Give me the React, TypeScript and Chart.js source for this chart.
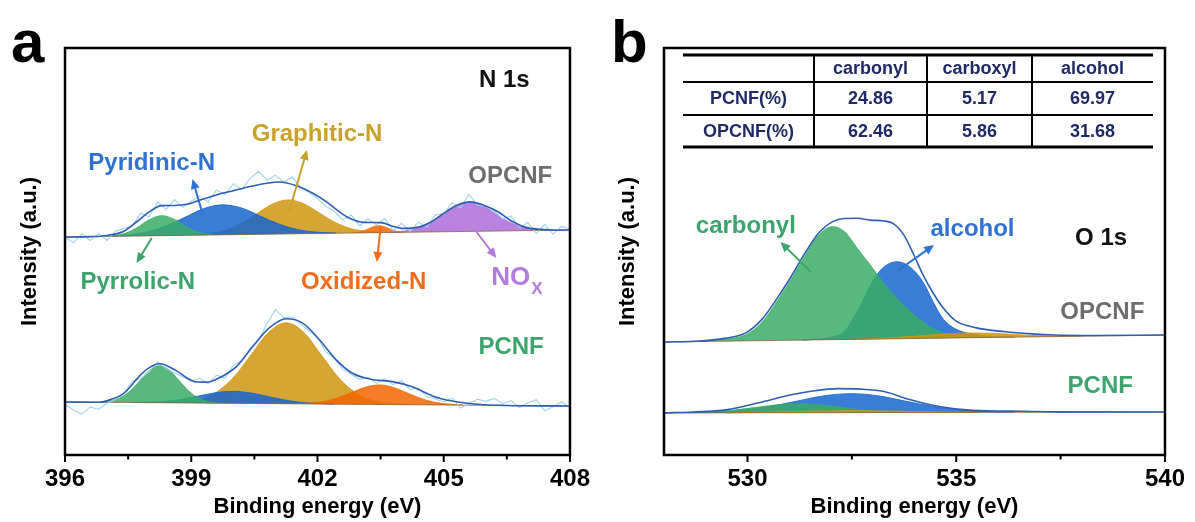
import React, { useEffect, useRef } from "react";
import { Chart, registerables } from "chart.js";

Chart.register(...registerables);

const FONT = '"Liberation Sans", Arial, Helvetica, sans-serif';

// ================= Panel a : N 1s =================
const A_X_RANGE = [396, 408];
const A_MAJOR_TICKS = [396, 399, 402, 405, 408];
const A_MINOR_TICKS = [397.5, 400.5, 403.5, 406.5];
const A_Y_RANGE = [0, 407];

// linear background under each spectrum (value at left end, right end)
const A_OPCNF_BACKGROUND = [218, 225];
const A_PCNF_BACKGROUND = [53, 49];

// [binding energy, intensity above background]
const A_OPCNF_ENVELOPE = [
  [396, 0], [396.6, 0], [397, 1], [397.4, 5], [397.7, 14], [398, 24], [398.3, 30], [398.6, 30],
  [398.9, 31], [399.2, 35], [399.6, 40], [400, 44], [400.4, 48], [400.8, 51], [401.1, 52],
  [401.5, 48], [401.9, 40], [402.2, 32], [402.5, 22], [402.75, 15], [403.1, 10.5], [403.5, 10],
  [403.8, 6], [404.0, 4], [404.4, 5], [404.7, 10], [404.95, 17], [405.3, 26], [405.63, 29.5],
  [405.95, 26], [406.3, 19], [406.6, 10], [406.93, 3.5], [407.3, 1], [407.7, 0], [408, 0],
];
const A_OPCNF_RAW = [
  [396.0, 0], [396.2, -6], [396.4, 3], [396.6, -4], [396.8, 3], [397.0, -4], [397.2, 5], [397.4, 8],
  [397.6, 10], [397.8, 23], [398.0, 19], [398.2, 34], [398.4, 26], [398.6, 36], [398.8, 28],
  [399.0, 34], [399.2, 39], [399.4, 33], [399.6, 45], [399.8, 40], [400.0, 51], [400.2, 45],
  [400.4, 56], [400.6, 63], [400.8, 54], [401.0, 59], [401.2, 52], [401.4, 57], [401.6, 46],
  [401.8, 41], [402.0, 35], [402.2, 27], [402.4, 22], [402.6, 13], [402.8, 18], [403.0, 7],
  [403.2, 14], [403.4, 8], [403.6, 14], [403.8, 2], [404.0, 9], [404.2, 1], [404.4, 10], [404.6, 5],
  [404.8, 17], [405.0, 18], [405.2, 29], [405.4, 24], [405.6, 37], [405.8, 26], [406.0, 25],
  [406.2, 20], [406.4, 12], [406.6, 15], [406.8, 3], [407.0, 8], [407.2, -3], [407.4, 6],
  [407.6, -4], [407.8, 4], [408.0, 1],
];
const A_OPCNF_PYRROLIC = [
  [397.1, 0.5], [397.4, 2.5], [397.7, 8], [398.0, 16], [398.3, 20], [398.6, 16], [398.9, 8],
  [399.2, 2.5], [399.5, 0.5],
];
const A_OPCNF_PYRIDINIC = [
  [397.05, 0.3], [397.5, 1.3], [397.95, 4], [398.4, 9.7], [398.85, 18], [399.3, 26.5], [399.75, 30],
  [400.2, 26.5], [400.65, 18], [401.1, 9.7], [401.55, 4], [402.0, 1.3], [402.45, 0.3],
];
const A_OPCNF_GRAPHITIC = [
  [399.08, 0.4], [399.45, 1.5], [399.82, 4.6], [400.19, 11], [400.56, 20.6], [400.93, 30], [401.3, 34],
  [401.67, 30], [402.04, 20.6], [402.41, 11], [402.78, 4.6], [403.15, 1.5], [403.52, 0.4],
];
const A_OPCNF_OXIDIZED = [
  [402.85, 0.2], [403.0, 0.9], [403.15, 2.8], [403.3, 5.6], [403.45, 7], [403.6, 5.6], [403.75, 2.8],
  [403.9, 0.9], [404.05, 0.2],
];
const A_OPCNF_NOX = [
  [403.74, 0.3], [404.05, 1.3], [404.36, 3.9], [404.67, 9.4], [404.98, 17.6], [405.29, 25.6], [405.6, 29],
  [405.91, 25.6], [406.22, 17.6], [406.53, 9.4], [406.84, 3.9], [407.15, 1.3], [407.46, 0.3],
];

const A_PCNF_ENVELOPE = [
  [396, 0], [396.8, 0], [397.1, 3], [397.38, 8.5], [397.78, 27], [398.0, 35], [398.25, 39],
  [398.65, 32], [398.9, 25], [399.13, 21], [399.35, 21], [399.6, 24], [400.08, 37], [400.46, 57],
  [400.86, 76], [401.26, 85], [401.64, 81], [402.05, 64], [402.45, 44], [402.83, 31], [403.3, 25],
  [403.78, 23], [404.25, 18], [404.73, 9], [405.2, 4], [405.77, 1], [406.5, 0], [408, 0],
];
const A_PCNF_RAW = [
  [396.0, -2], [396.2, -8], [396.4, -12], [396.6, -5], [396.8, -7], [397.0, -1], [397.2, 3], [397.4, 9],
  [397.6, 21], [397.8, 24], [398.0, 31], [398.2, 41], [398.4, 34], [398.6, 30], [398.8, 26],
  [399.0, 22], [399.2, 25], [399.4, 19], [399.6, 28], [399.8, 25], [400.0, 38], [400.2, 43],
  [400.4, 55], [400.6, 63], [400.8, 80], [401.0, 94], [401.2, 86], [401.4, 87], [401.6, 80],
  [401.8, 73], [402.0, 67], [402.2, 52], [402.4, 46], [402.6, 35], [402.8, 30], [403.0, 25],
  [403.2, 27], [403.4, 21], [403.6, 26], [403.8, 20], [404.0, 24], [404.2, 15], [404.4, 17],
  [404.6, 8], [404.8, 6], [405.0, 3], [405.2, 7], [405.4, -3], [405.6, 2], [405.8, 6], [406.0, 4],
  [406.2, 7], [406.4, 2], [406.6, 5], [406.8, -2], [407.0, 3], [407.2, 6], [407.4, -5], [407.6, -1],
  [407.8, 4], [408.0, -2],
];
const A_PCNF_PYRROLIC = [
  [396.87, 0.4], [397.1, 1.6], [397.33, 5], [397.56, 12], [397.79, 22.4], [398.02, 32.7], [398.25, 37],
  [398.48, 32.7], [398.71, 22.4], [398.94, 12], [399.17, 5], [399.4, 1.6], [399.63, 0.4],
];
const A_PCNF_PYRIDINIC = [
  [397.6, 0.13], [398.0, 0.53], [398.4, 1.6], [398.8, 3.9], [399.2, 7.3], [399.6, 10.6], [400.0, 12],
  [400.4, 10.6], [400.8, 7.3], [401.2, 3.9], [401.6, 1.6], [402.0, 0.53], [402.4, 0.13],
];
const A_PCNF_GRAPHITIC = [
  [398.36, 0.2], [398.77, 0.9], [399.185, 3.6], [399.6, 11], [400.015, 26.3], [400.43, 49],
  [400.845, 71.5], [401.26, 81], [401.675, 71.5], [402.09, 49], [402.505, 26.3], [402.92, 11],
  [403.335, 3.6], [403.75, 0.9], [404.16, 0.2],
];
const A_PCNF_OXIDIZED = [
  [401.49, 0.2], [401.82, 0.9], [402.15, 2.6], [402.48, 6.3], [402.81, 11.8], [403.14, 17.2],
  [403.47, 19.5], [403.8, 17.2], [404.13, 11.8], [404.46, 6.3], [404.79, 2.6], [405.12, 0.9],
  [405.45, 0.2],
];

// ================= Panel b : O 1s =================
const B_X_RANGE = [528, 540];
const B_MAJOR_TICKS = [530, 535, 540];
const B_MINOR_TICKS = [532.5, 537.5];
const B_Y_RANGE = [0, 407];

const B_OPCNF_BACKGROUND = [113, 120];
const B_PCNF_BACKGROUND = [42, 43];

const B_OPCNF_ENVELOPE = [
  [528, 0], [528.85, 0.5], [529.49, 3], [529.96, 8], [530.34, 21], [530.74, 44], [531.05, 64],
  [531.38, 87], [531.69, 106], [532.04, 118], [532.32, 121], [532.63, 121], [532.94, 119],
  [533.27, 118], [533.5, 115], [533.74, 104], [533.98, 84], [534.21, 63], [534.45, 45], [534.69, 30],
  [534.99, 17], [535.46, 10], [536.17, 5.5], [536.8, 3], [537.35, 1.5], [538.3, 0.5], [540, 0],
];
const B_OPCNF_CARBONYL = [
  [528.6, 0], [529.0, 0.5], [529.49, 2], [529.96, 6], [530.34, 18], [530.74, 41], [531.05, 61],
  [531.38, 84], [531.69, 104], [532.04, 113], [532.32, 108], [532.63, 91], [532.94, 74], [533.41, 48],
  [533.88, 28], [534.35, 12], [534.83, 3], [535.3, 0.5], [535.8, 0],
];
const B_OPCNF_ALCOHOL = [
  [531.3, 0], [531.6, 0.5], [532.0, 2.5], [532.32, 8], [532.63, 28], [533.03, 60], [533.27, 72],
  [533.58, 77], [533.88, 72], [534.21, 56], [534.45, 36], [534.69, 19], [534.92, 10.5], [535.23, 5],
  [535.6, 2], [536.0, 0.5], [536.4, 0],
];
const B_OPCNF_CARBOXYL = [
  [532.5, 0], [533.3, 0.8], [534.0, 2.2], [534.6, 3.8], [535.2, 4.8], [535.8, 4.2], [536.4, 2.6],
  [537.0, 1], [537.6, 0.2], [538, 0],
];

const B_PCNF_ENVELOPE = [
  [528, 0], [528.69, 1], [529.49, 3], [530.27, 10], [531.05, 18], [531.6, 22], [532.16, 24],
  [532.7, 23.5], [533.27, 21], [533.88, 13], [534.59, 6], [535.39, 2], [536.58, 1], [537.5, 0.3],
  [540, 0],
];
const B_PCNF_ALCOHOL = [
  [528.57, 0.2], [529.22, 0.8], [529.87, 2.6], [530.52, 6.2], [531.17, 11.5], [531.82, 16.8],
  [532.47, 19], [533.12, 16.8], [533.77, 11.5], [534.42, 6.2], [535.07, 2.6], [535.72, 0.8],
  [536.37, 0.2],
];
const B_PCNF_CARBONYL = [
  [528.7, 0.4], [529.2, 1.2], [529.7, 2.9], [530.2, 5.5], [530.7, 7.9], [531.2, 9], [531.7, 7.9],
  [532.2, 5.5], [532.7, 2.9], [533.2, 1.2], [533.7, 0.4],
];
const B_PCNF_CARBOXYL = [
  [529.5, 0], [530.5, 0.7], [531.5, 1.4], [532.5, 2], [533.5, 1.4], [534.5, 0.7], [535.5, 0],
];

// table of panel b
const TABLE_COLUMNS = ["carbonyl", "carboxyl", "alcohol"];
const TABLE_ROW_NAMES = ["PCNF(%)", "OPCNF(%)"];
const PCNF_PERCENT = [24.86, 5.17, 69.97];
const OPCNF_PERCENT = [62.46, 5.86, 31.68];

// ================= styles =================
const COL = {
  gold: "rgba(207,150,16,0.85)",
  blue: "rgba(23,102,207,0.85)",
  green: "rgba(58,173,102,0.85)",
  orange: "rgba(243,102,2,0.85)",
  purple: "rgba(173,108,220,0.85)",
  envelope: "#2d5fb4",
  raw: "#9fd5ea",
  base: "rgba(140,95,50,0.75)",
};
const TXT = {
  blue: "#2f72d4",
  gold: "#c9a227",
  gray: "#6e6e6e",
  green: "#3da46c",
  orange: "#ef6c1a",
  purple: "#b27bdc",
  black: "#111111",
  navy: "#1f2a66",
};

function bgAt(bg, range, x) {
  return bg[0] + ((bg[1] - bg[0]) * (x - range[0])) / (range[1] - range[0]);
}
function lift(series, bg, range) {
  return series.map(([x, h]) => ({ x, y: bgAt(bg, range, x) + h }));
}
function baselineDS(bg, range) {
  return {
    data: [{ x: range[0], y: bg[0] }, { x: range[1], y: bg[1] }],
    borderColor: COL.base, borderWidth: 1, pointRadius: 0, fill: false, order: 3,
  };
}
function peakDS(series, bg, range, color, order, target) {
  return {
    data: lift(series, bg, range), backgroundColor: color, borderColor: color, borderWidth: 1,
    pointRadius: 0, fill: target, cubicInterpolationMode: "monotone", order,
  };
}
function envDS(series, bg, range) {
  return {
    data: lift(series, bg, range), borderColor: COL.envelope, borderWidth: 1.6, pointRadius: 0,
    fill: false, cubicInterpolationMode: "monotone", order: 1,
  };
}
function rawDS(series, bg, range) {
  return {
    data: lift(series, bg, range), borderColor: COL.raw, borderWidth: 1.1, pointRadius: 0,
    fill: false, tension: 0, order: 2,
  };
}

function drawArrow(ctx, x1, y1, x2, y2, color) {
  const ang = Math.atan2(y2 - y1, x2 - x1);
  const L = 10, W = 4.5;
  ctx.strokeStyle = color; ctx.fillStyle = color; ctx.lineWidth = 2;
  ctx.beginPath();
  ctx.moveTo(x1, y1);
  ctx.lineTo(x2 - Math.cos(ang) * L * 0.8, y2 - Math.sin(ang) * L * 0.8);
  ctx.stroke();
  ctx.beginPath();
  ctx.moveTo(x2, y2);
  ctx.lineTo(x2 - Math.cos(ang) * L - Math.sin(ang) * W, y2 - Math.sin(ang) * L + Math.cos(ang) * W);
  ctx.lineTo(x2 - Math.cos(ang) * L + Math.sin(ang) * W, y2 - Math.sin(ang) * L - Math.cos(ang) * W);
  ctx.closePath();
  ctx.fill();
}

function decorPlugin(spec) {
  return {
    id: "decor",
    afterDraw(chart) {
      const { ctx, chartArea: ca } = chart;
      const xs = chart.scales.x;
      const ys = chart.scales.y;
      ctx.save();
      ctx.strokeStyle = "#000";
      ctx.lineWidth = 2;
      const tick = (v, len) => {
        const px = xs.getPixelForValue(v);
        ctx.beginPath();
        ctx.moveTo(px, ca.bottom);
        ctx.lineTo(px, ca.bottom + len);
        ctx.stroke();
      };
      spec.major.forEach((v) => tick(v, 7));
      spec.minor.forEach((v) => tick(v, 4.5));
      ctx.lineWidth = 2.5;
      ctx.strokeRect(ca.left, ca.top, ca.right - ca.left, ca.bottom - ca.top);

      spec.arrows.forEach((a) => {
        drawArrow(ctx, xs.getPixelForValue(a.from[0]), ys.getPixelForValue(a.from[1]),
          xs.getPixelForValue(a.to[0]), ys.getPixelForValue(a.to[1]), a.color);
      });

      ctx.textBaseline = "alphabetic";
      spec.labels.forEach((l) => {
        ctx.font = `bold ${l.size}px ${FONT}`;
        ctx.fillStyle = l.color;
        ctx.textAlign = l.align || "center";
        const px = xs.getPixelForValue(l.x);
        const py = ys.getPixelForValue(l.y);
        ctx.fillText(l.text, px, py);
        if (l.sub) {
          const w = ctx.measureText(l.text).width;
          ctx.font = `bold ${l.subSize}px ${FONT}`;
          ctx.textAlign = "left";
          ctx.fillText(l.sub, px + w + 1, py + l.subDrop);
        }
      });

      ctx.font = `bold 60px ${FONT}`;
      ctx.fillStyle = "#000";
      ctx.textAlign = "left";
      ctx.fillText(spec.letter, 11, 62);

      if (spec.table) {
        const t = spec.table;
        ctx.strokeStyle = "#000";
        ctx.lineWidth = 3;
        [t.rows[0], t.rows[3]].forEach((yy) => {
          ctx.beginPath(); ctx.moveTo(t.left, yy); ctx.lineTo(t.right, yy); ctx.stroke();
        });
        ctx.lineWidth = 2;
        [t.rows[1], t.rows[2]].forEach((yy) => {
          ctx.beginPath(); ctx.moveTo(t.left, yy); ctx.lineTo(t.right, yy); ctx.stroke();
        });
        t.cols.forEach((xx) => {
          ctx.beginPath(); ctx.moveTo(xx, t.rows[0]); ctx.lineTo(xx, t.rows[3]); ctx.stroke();
        });
        const xb = [t.left, ...t.cols, t.right];
        const cellX = (i) => (xb[i] + xb[i + 1]) / 2;
        const cellY = (j) => (t.rows[j] + t.rows[j + 1]) / 2 + 1;
        ctx.font = `bold 18px ${FONT}`;
        ctx.fillStyle = TXT.navy;
        ctx.textAlign = "center";
        ctx.textBaseline = "middle";
        TABLE_COLUMNS.forEach((c, i) => ctx.fillText(c, cellX(i + 1), cellY(0)));
        const rows = [PCNF_PERCENT, OPCNF_PERCENT];
        TABLE_ROW_NAMES.forEach((n, j) => {
          ctx.fillText(n, cellX(0), cellY(j + 1));
          rows[j].forEach((v, i) => ctx.fillText(v.toFixed(2), cellX(i + 1), cellY(j + 1)));
        });
      }
      ctx.restore();
    },
  };
}

function baseOptions(range, yRange, major, padRight, yWidth, yTitlePad) {
  const axisFont = { family: FONT, size: 24, weight: "bold" };
  const xTitleFont = { family: FONT, size: 22, weight: "bold" };
  const yTitleFont = { family: FONT, size: 22, weight: "bold" };
  return {
    responsive: false,
    animation: false,
    events: [],
    layout: { padding: { left: 0, right: padRight, top: 48, bottom: 0 } },
    plugins: { legend: { display: false }, tooltip: { enabled: false }, title: { display: false } },
    scales: {
      x: {
        type: "linear", min: range[0], max: range[1],
        afterBuildTicks: (s) => { s.ticks = major.map((v) => ({ value: v })); },
        afterFit: (s) => { s.height = 67; },
        grid: { display: false, drawTicks: false },
        border: { display: false },
        ticks: { font: axisFont, color: "#000", padding: 10, maxRotation: 0, autoSkip: false, callback: (v) => String(v) },
        title: { display: true, text: "Binding energy (eV)", font: xTitleFont, color: "#000", padding: { top: 0, bottom: 2 } },
      },
      y: {
        type: "linear", min: yRange[0], max: yRange[1],
        afterFit: (s) => { s.width = yWidth; },
        grid: { display: false, drawTicks: false },
        border: { display: false },
        ticks: { display: false },
        title: { display: true, text: "Intensity (a.u.)", font: yTitleFont, color: "#000", padding: { top: yTitlePad, bottom: 0 } },
      },
    },
  };
}

function buildA() {
  const r = A_X_RANGE;
  const o = A_OPCNF_BACKGROUND;
  const p = A_PCNF_BACKGROUND;
  const datasets = [
    baselineDS(o, r), // 0
    baselineDS(p, r), // 1
    peakDS(A_OPCNF_GRAPHITIC, o, r, COL.gold, 8, 0),
    peakDS(A_OPCNF_PYRIDINIC, o, r, COL.blue, 7, 0),
    peakDS(A_OPCNF_PYRROLIC, o, r, COL.green, 6, 0),
    peakDS(A_OPCNF_OXIDIZED, o, r, COL.orange, 5, 0),
    peakDS(A_OPCNF_NOX, o, r, COL.purple, 4, 0),
    peakDS(A_PCNF_GRAPHITIC, p, r, COL.gold, 8, 1),
    peakDS(A_PCNF_PYRIDINIC, p, r, COL.blue, 7, 1),
    peakDS(A_PCNF_PYRROLIC, p, r, COL.green, 6, 1),
    peakDS(A_PCNF_OXIDIZED, p, r, COL.orange, 5, 1),
    rawDS(A_OPCNF_RAW, o, r),
    rawDS(A_PCNF_RAW, p, r),
    envDS(A_OPCNF_ENVELOPE, o, r),
    envDS(A_PCNF_ENVELOPE, p, r),
  ];
  const spec = {
    letter: "a",
    major: A_MAJOR_TICKS,
    minor: A_MINOR_TICKS,
    labels: [
      { text: "N 1s", x: 406.44, y: 368, size: 24, color: TXT.black },
      { text: "Graphitic-N", x: 401.99, y: 314, size: 24, color: TXT.gold },
      { text: "Pyridinic-N", x: 398.06, y: 285, size: 24, color: TXT.blue },
      { text: "OPCNF", x: 406.58, y: 272, size: 24, color: TXT.gray },
      { text: "Pyrrolic-N", x: 397.73, y: 166, size: 24, color: TXT.green },
      { text: "Oxidized-N", x: 403.1, y: 166, size: 24, color: TXT.orange },
      { text: "NO", x: 406.13, y: 170, size: 26, color: TXT.purple, align: "left", sub: "X", subSize: 17, subDrop: 9 },
      { text: "PCNF", x: 406.6, y: 101, size: 24, color: TXT.green },
    ],
    arrows: [
      { from: [399.27, 241], to: [399.03, 276], color: TXT.blue },
      { from: [401.33, 244], to: [401.75, 305], color: TXT.gold },
      { from: [398.06, 217], to: [397.7, 192], color: TXT.green },
      { from: [403.5, 228], to: [403.41, 193], color: TXT.orange },
      { from: [405.78, 223], to: [406.25, 197], color: TXT.purple },
    ],
  };
  return {
    type: "line",
    data: { datasets },
    options: baseOptions(r, A_Y_RANGE, A_MAJOR_TICKS, 27, 65, 17),
    plugins: [decorPlugin(spec)],
  };
}

function buildB() {
  const r = B_X_RANGE;
  const o = B_OPCNF_BACKGROUND;
  const p = B_PCNF_BACKGROUND;
  const datasets = [
    baselineDS(o, r), // 0
    baselineDS(p, r), // 1
    peakDS(B_OPCNF_ALCOHOL, o, r, COL.blue, 8, 0),
    peakDS(B_OPCNF_CARBONYL, o, r, COL.green, 7, 0),
    peakDS(B_OPCNF_CARBOXYL, o, r, COL.gold, 6, 0),
    peakDS(B_PCNF_ALCOHOL, p, r, COL.blue, 8, 1),
    peakDS(B_PCNF_CARBONYL, p, r, COL.green, 7, 1),
    peakDS(B_PCNF_CARBOXYL, p, r, COL.gold, 6, 1),
    envDS(B_OPCNF_ENVELOPE, o, r),
    envDS(B_PCNF_ENVELOPE, p, r),
  ];
  const spec = {
    letter: "b",
    major: B_MAJOR_TICKS,
    minor: B_MINOR_TICKS,
    labels: [
      { text: "carbonyl", x: 529.96, y: 222, size: 24, color: TXT.green },
      { text: "alcohol", x: 535.39, y: 219, size: 24, color: TXT.blue },
      { text: "O 1s", x: 538.47, y: 210, size: 24, color: TXT.black },
      { text: "OPCNF", x: 538.5, y: 136, size: 24, color: TXT.gray },
      { text: "PCNF", x: 538.45, y: 62, size: 24, color: TXT.green },
    ],
    arrows: [
      { from: [531.52, 183], to: [530.79, 213], color: TXT.green },
      { from: [533.62, 185], to: [534.47, 210], color: TXT.blue },
    ],
    table: { left: 83, right: 553, cols: [214, 327, 432], rows: [55, 82, 115, 147] },
  };
  return {
    type: "line",
    data: { datasets },
    options: baseOptions(r, B_Y_RANGE, B_MAJOR_TICKS, 23, 64, 15),
    plugins: [decorPlugin(spec)],
  };
}

function Panel({ build, left, width }) {
  const ref = useRef(null);
  useEffect(() => {
    const chart = new Chart(ref.current, build());
    return () => chart.destroy();
  }, [build]);
  return (
    <canvas
      ref={ref}
      width={width}
      height={522}
      style={{ position: "absolute", left, top: 0, width, height: 522, display: "block" }}
    />
  );
}

export default function App() {
  return (
    <div style={{ position: "absolute", left: 0, top: 0, width: 1195, height: 522, background: "#fff", overflow: "hidden" }}>
      <Panel build={buildA} left={0} width={600} />
      <Panel build={buildB} left={600} width={595} />
    </div>
  );
}
